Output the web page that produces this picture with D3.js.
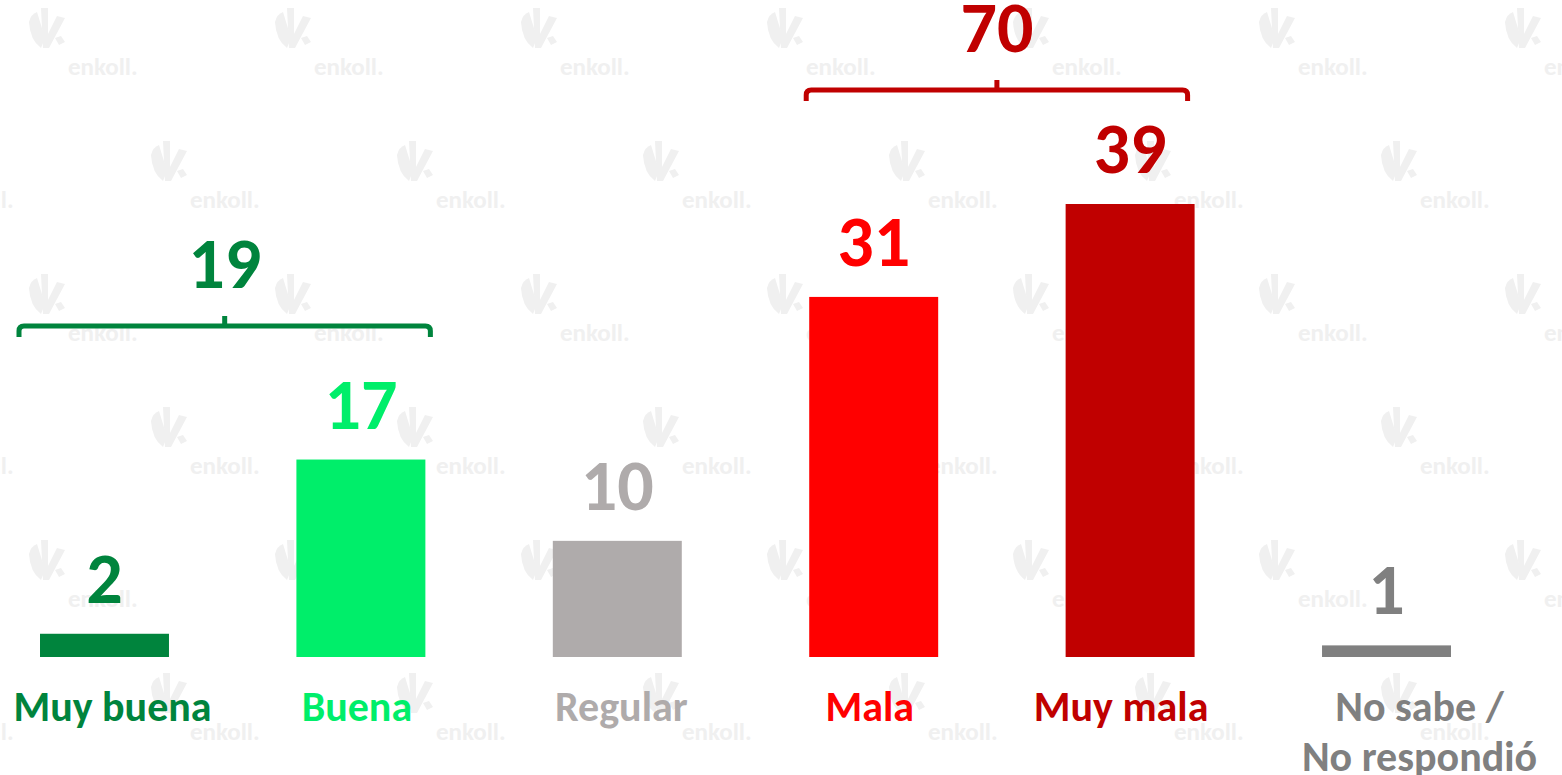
<!DOCTYPE html>
<html>
<head>
<meta charset="utf-8">
<script src="https://cdn.jsdelivr.net/npm/d3@7"></script>
<style>
    body { margin: 0; background: #ffffff; }
    svg { display: block; }
    text { font-family: Carlito, Lato, "Open Sans", sans-serif; font-weight: 700; }
</style>
</head>
<body>
<script>
// Data
var categories = ["Muy buena", "Buena", "Regular", "Mala", "Muy mala",
    "No sabe / No respondió"];
var values = [2, 17, 10, 31, 39, 1];
var colors = ["#00843d", "#00ee6a", "#afabab", "#ff0000", "#c00000", "#808080"];
var groupTotals = [19, 70];
var groupMembers = [["Muy buena", "Buena"], ["Mala", "Muy mala"]];
var groupColors = ["#00843d", "#c00000"];

var width = 1562, height = 775;

var svg = d3.select("body").append("svg")
    .attr("width", width)
    .attr("height", height);

// Watermark pattern
var wm = svg.append("g").attr("fill", "#f0f0f0");
for (var r = 0; r < 6; r++) {
    for (var c = -1; c < 8; c++) {
        var x0 = 27 + c * 246 + (r % 2) * 122;
        var y0 = 8 + r * 133;
        var g = wm.append("g")
            .attr("transform", "translate(" + x0 + "," + y0 + ")");
        g.append("path")
            .attr("d", "M2,14 Q4,6 10,4 L18,30 L14,40 Q3,32 2,14 Z");
        g.append("path")
            .attr("d", "M14,0 L21,0 L21,26 L30,8 L38,10 L22,40 L16,40 Z");
        g.append("path")
            .attr("d", "M28,30 L34,28 L38,34 L32,37 Z");
        g.append("text")
            .attr("x", 41)
            .attr("y", 67)
            .attr("font-size", 25)
            .text("enkoll.");
    }
}

// Scales
var x = d3.scaleBand()
    .domain(categories)
    .range([40, 1451])
    .paddingInner(0.497)
    .paddingOuter(0);

var y = d3.scaleLinear()
    .domain([0, 39])
    .range([657, 204]);

// Bars
svg.selectAll("rect.bar")
    .data(values)
    .enter().append("rect")
    .attr("class", "bar")
    .attr("x", function(d, i) { return x(categories[i]); })
    .attr("y", function(d) { return y(d); })
    .attr("width", x.bandwidth())
    .attr("height", function(d) { return y(0) - y(d); })
    .attr("fill", function(d, i) { return colors[i]; });

// Value labels
svg.selectAll("text.value")
    .data(values)
    .enter().append("text")
    .attr("class", "value")
    .attr("x", function(d, i) { return x(categories[i]) + x.bandwidth() / 2; })
    .attr("y", function(d) { return y(d) - 31; })
    .attr("text-anchor", "middle")
    .attr("font-size", 72)
    .attr("fill", function(d, i) { return colors[i]; })
    .text(function(d) { return d; });

// Category labels (small nudges to follow the original text boxes)
var labelNudge = [8, -4, 4, -4, -9, 33];
var cat = svg.selectAll("text.cat")
    .data(categories)
    .enter().append("text")
    .attr("class", "cat")
    .attr("text-anchor", "middle")
    .attr("font-size", 42)
    .attr("fill", function(d, i) { return colors[i]; })
    .attr("transform", function(d, i) {
        var cx = x(d) + x.bandwidth() / 2 + labelNudge[i];
        return "translate(" + cx + ",721)";
    });

cat.each(function(d) {
    var parts = d.indexOf(" / ") > 0 ? [d.split(" / ")[0] + " /",
        d.split(" / ")[1]] : [d];
    var t = d3.select(this);
    parts.forEach(function(p, k) {
        t.append("tspan")
            .attr("x", 0)
            .attr("dy", k === 0 ? 0 : 50)
            .text(p);
    });
});

// Group brackets
var bracketY = [326, 90];
var bracketPad = [[21, 5], [3, -7]];
groupMembers.forEach(function(m, i) {
    var x1 = x(m[0]) - bracketPad[i][0];
    var x2 = x(m[m.length - 1]) + x.bandwidth() + bracketPad[i][1];
    var cx = (x1 + x2) / 2;
    var by = bracketY[i];
    var r = 5;
    svg.append("path")
        .attr("d", "M" + x1 + "," + (by + 11) +
            " L" + x1 + "," + (by + r) +
            " Q" + x1 + "," + by + " " + (x1 + r) + "," + by +
            " L" + (x2 - r) + "," + by +
            " Q" + x2 + "," + by + " " + x2 + "," + (by + r) +
            " L" + x2 + "," + (by + 11) +
            " M" + cx + "," + by + " L" + cx + "," + (by - 10))
        .attr("fill", "none")
        .attr("stroke", groupColors[i])
        .attr("stroke-width", 5);
    svg.append("text")
        .attr("x", cx)
        .attr("y", by - 38)
        .attr("text-anchor", "middle")
        .attr("font-size", 72)
        .attr("fill", groupColors[i])
        .text(groupTotals[i]);
});
</script>
</body>
</html>
